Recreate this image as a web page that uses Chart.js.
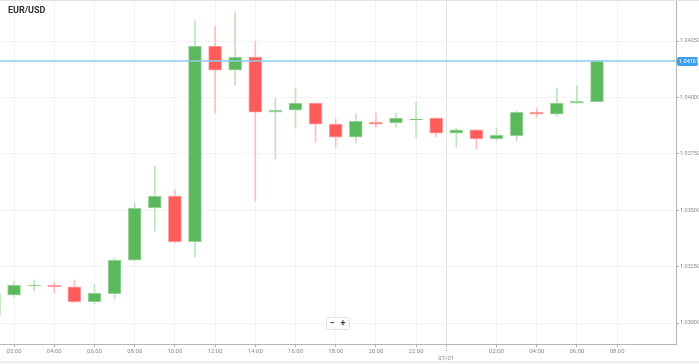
<!DOCTYPE html>
<html>
<head>
<meta charset="utf-8">
<script src="https://cdn.jsdelivr.net/npm/chart.js@4"></script>
<style>
  html, body { margin: 0; padding: 0; background: #fff; }
  #wrap { width: 699px; height: 364px; position: relative; }
</style>
</head>
<body>
<div id="wrap"><canvas id="myChart" width="699" height="364"></canvas></div>
<script>
// hourly EUR/USD candles, hour 24 = 00:00 of 07/01
const hours  = [1, 2, 3, 4, 5, 6, 7, 8, 9, 10, 11, 12, 13, 14, 15, 16, 17, 18, 19, 20, 21, 22, 23, 24, 25, 26, 27, 28, 29, 30, 31];
const opens  = [1.03036, 1.03124, 1.03165, 1.03168, 1.03160, 1.03093, 1.03129, 1.03279, 1.03510, 1.03563, 1.03359, 1.04228, 1.04121, 1.04179, 1.03935, 1.03944, 1.03975, 1.03882, 1.03824, 1.03891, 1.03887, 1.03902, 1.03909, 1.03842, 1.03856, 1.03816, 1.03829, 1.03935, 1.03926, 1.03975, 1.03980];
const highs  = [1.03137, 1.03186, 1.03191, 1.03182, 1.03191, 1.03173, 1.03288, 1.03532, 1.03696, 1.03590, 1.04339, 1.04316, 1.04379, 1.04250, 1.03997, 1.04042, 1.03977, 1.03904, 1.03926, 1.03931, 1.03931, 1.03980, 1.03911, 1.03864, 1.03858, 1.03864, 1.03940, 1.03953, 1.04042, 1.04051, 1.04166];
const lows   = [1.03027, 1.03115, 1.03142, 1.03133, 1.03090, 1.03084, 1.03106, 1.03275, 1.03408, 1.03355, 1.03293, 1.03931, 1.04055, 1.03541, 1.03727, 1.03864, 1.03802, 1.03780, 1.03798, 1.03869, 1.03869, 1.03824, 1.03824, 1.03780, 1.03771, 1.03807, 1.03807, 1.03913, 1.03918, 1.03975, 1.03980];
const closes = [1.03129, 1.03168, 1.03168, 1.03160, 1.03093, 1.03133, 1.03279, 1.03510, 1.03563, 1.03359, 1.04228, 1.04121, 1.04179, 1.03935, 1.03944, 1.03975, 1.03882, 1.03824, 1.03895, 1.03882, 1.03909, 1.03904, 1.03842, 1.03856, 1.03816, 1.03833, 1.03935, 1.03926, 1.03975, 1.03984, 1.04161];

const xTicks = [2, 4, 6, 8, 10, 12, 14, 16, 18, 20, 22, 23.5, 26, 28, 30, 32];
const dayTick = 23.5;
const dayLabel = '07/01';
const yTicks = [1.03000, 1.03250, 1.03500, 1.03750, 1.04000, 1.04250];

const GREEN = '#5cb85c', RED = '#fe5b5b';
const up = closes.map((c, i) => c >= opens[i]);

const bodies = hours.map((h, i) => ({ x: h, y: [opens[i], closes[i]] }));
const wicks  = hours.map((h, i) => ({ x: h, y: [lows[i], highs[i]] }));

const extras = {
  id: 'extras',
  afterDatasetsDraw(chart) {
    const { ctx, chartArea, scales } = chart;
    const last = closes[closes.length - 1];
    const y = Math.round(scales.y.getPixelForValue(last));
    ctx.save();
    ctx.strokeStyle = '#8ccbf3';
    ctx.lineWidth = 1.5;
    ctx.beginPath();
    ctx.moveTo(chartArea.left, y);
    ctx.lineTo(chartArea.right, y);
    ctx.stroke();
    // price label
    ctx.fillStyle = '#3d9ff2';
    ctx.beginPath();
    ctx.roundRect(chartArea.right + 1, y - 4, 21, 9, 2);
    ctx.fill();
    ctx.fillStyle = '#fff';
    ctx.font = '5.5px Roboto';
    ctx.textAlign = 'left';
    ctx.textBaseline = 'middle';
    ctx.fillText(last.toFixed(5), chartArea.right + 3, y + 1);
    ctx.restore();
  },
  afterDraw(chart) {
    const { ctx, chartArea, scales } = chart;
    ctx.save();
    // top border
    ctx.fillStyle = '#e4e4e4';
    ctx.fillRect(0, 0, chart.width, 1);
    // bottom strip
    ctx.fillStyle = '#e9e9e9';
    ctx.fillRect(0, 361, chart.width, 1);
    ctx.fillStyle = '#f5f5f5';
    ctx.fillRect(0, 362, chart.width, 2);
    // day separator tick
    const dx = Math.round(scales.x.getPixelForValue(dayTick)) + 0.5;
    ctx.strokeStyle = '#bbb';
    ctx.setLineDash([1, 1]);
    ctx.beginPath();
    ctx.moveTo(dx, chartArea.bottom);
    ctx.lineTo(dx, chartArea.bottom + 8);
    ctx.stroke();
    ctx.setLineDash([]);
    // title
    ctx.fillStyle = '#333';
    ctx.font = 'bold 9px Roboto';
    ctx.textAlign = 'left';
    ctx.textBaseline = 'middle';
    ctx.fillText('EUR/USD', 8, 11);
    // zoom control
    ctx.fillStyle = '#fff';
    ctx.strokeStyle = '#e2e2e2';
    ctx.beginPath();
    ctx.roundRect(326.5, 317.5, 23, 12, 2);
    ctx.fill();
    ctx.stroke();
    ctx.fillStyle = '#444';
    ctx.font = 'bold 9px Roboto';
    ctx.textAlign = 'center';
    ctx.fillText('\u2212', 332, 323.5);
    ctx.fillText('+', 343, 323.5);
    ctx.restore();
  }
};

const chart = new Chart(document.getElementById('myChart'), {
  type: 'bar',
  data: {
    datasets: [{
      data: bodies,
      backgroundColor: up.map(u => u ? GREEN : RED),
      borderColor: up.map(u => u ? '#a6d9a6' : '#ffa3a3'),
      borderWidth: 1,
      borderSkipped: false,
      barThickness: 13,
      grouped: false,
      order: 0
    }, {
      data: wicks,
      backgroundColor: up.map(u => u ? '#bfe3bf' : '#ffbdbd'),
      borderWidth: 0,
      barThickness: 1,
      grouped: false,
      order: 1
    }]
  },
  options: {
    responsive: false,
    animation: false,
    layout: { padding: 0 },
    plugins: { legend: { display: false }, tooltip: { enabled: false } },
    scales: {
      x: {
        type: 'linear',
        min: 1.3,
        max: 34.93,
        offset: false,
        afterBuildTicks(scale) { scale.ticks = xTicks.map(v => ({ value: v })); },
        afterFit(scale) { scale.height = 20; scale.paddingLeft = 0; scale.paddingRight = 0; },
        grid: {
          offset: false,
          color: ctx => (ctx.tick && ctx.tick.value === dayTick) ? '#e3e3e3' : '#f3f3f3',
          tickColor: '#aaa',
          tickLength: 3
        },
        border: { color: '#b5b5b5' },
        ticks: {
          autoSkip: false,
          maxRotation: 0,
          padding: 1,
          color: '#888',
          font: { family: 'Roboto', size: 6 },
          callback: v => {
            if (v === dayTick) return ['', dayLabel];
            const h = v % 24;
            return (h < 10 ? '0' : '') + h + ':00';
          }
        }
      },
      y: {
        position: 'right',
        min: 1.02907,
        max: 1.04432,
        afterBuildTicks(scale) { scale.ticks = yTicks.map(v => ({ value: v })); },
        afterFit(scale) { scale.width = 23; scale.paddingTop = 0; scale.paddingBottom = 0; },
        grid: { color: '#f3f3f3', tickColor: '#aaa', tickLength: 3 },
        border: { color: '#b5b5b5' },
        ticks: {
          padding: 1,
          color: '#888',
          font: { family: 'Roboto', size: 5.5 },
          callback: v => v.toFixed(5)
        }
      }
    }
  },
  plugins: [extras]
});
</script>
</body>
</html>
